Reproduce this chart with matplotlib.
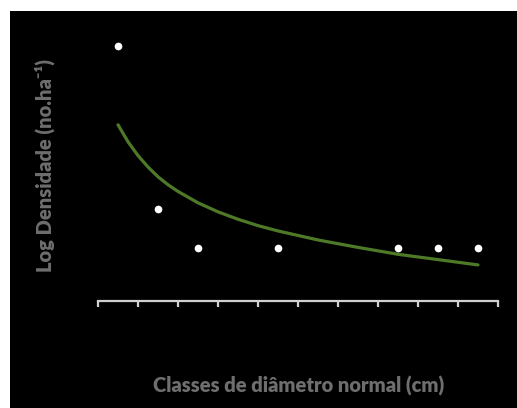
import matplotlib
matplotlib.use("Agg")
import matplotlib.pyplot as plt

# Data (category positions 1..10)
categories = [1, 2, 3, 4, 5, 6, 7, 8, 9, 10]
point_x = [1, 2, 3, 5, 8, 9, 10]
point_y = [2.40, 0.87, 0.50, 0.50, 0.50, 0.50, 0.50]

# Trendline
curve_x = [1.0, 1.25, 1.5, 1.75, 2.0, 2.25, 2.5, 3.0, 3.5, 4.0, 4.5, 5.0, 6.0, 7.0, 8.0, 9.0, 10.0]
curve_y = [1.66, 1.50, 1.37, 1.262, 1.17, 1.095, 1.032, 0.925, 0.84, 0.77, 0.71, 0.66, 0.575, 0.505, 0.44, 0.39, 0.34]

xlabel = "Classes de diâmetro normal (cm)"
ylabel = "Log Densidade (no.ha⁻¹)"

W, H = 517, 408
fig = plt.figure(figsize=(W / 100, H / 100), dpi=100, facecolor="white")
bg = fig.add_axes([10 / W, 0, 1 - 10 / W, (H - 11) / H])
bg.set_facecolor("black")
bg.set_xticks([]); bg.set_yticks([])
for s in bg.spines.values():
    s.set_visible(False)
bg.set_zorder(0)

ax = fig.add_axes([98 / W, (H - 301) / H, 400 / W, 276 / H])
ax.set_zorder(2)
ax.set_facecolor("none")
ax.set_xlim(0.5, 10.5)
ax.set_ylim(0, 2.6)

ax.plot(curve_x, curve_y, color="#4e7a27", lw=2.3, solid_capstyle="round",
        solid_joinstyle="round", zorder=2)
ax.plot(point_x, point_y, linestyle="none", marker="o", markersize=4.5,
        markerfacecolor="white", markeredgecolor="white", zorder=3)

for s in ["top", "right", "left"]:
    ax.spines[s].set_visible(False)
ax.spines["bottom"].set_color("#d0d0d0")
ax.spines["bottom"].set_linewidth(1.6)
ax.set_xticks([c - 0.5 for c in categories] + [10.5])
ax.set_xticklabels([])
ax.tick_params(axis="x", direction="out", length=4.5, width=1.6, color="#d0d0d0")
ax.set_yticks([])

fam = ["Lato", "DejaVu Sans"]
fig.text(299 / W, 1 - 386 / H, xlabel, ha="center", va="center", zorder=5,
         fontsize=14.5, fontweight="heavy", color="#6e6e6e", family=fam)
fig.text(45 / W, 1 - 165 / H, ylabel, ha="center", va="center", rotation=90, zorder=5,
         fontsize=14.5, fontweight="heavy", color="#6e6e6e", family=fam)

fig.savefig("out.png", dpi=100, facecolor="white")
